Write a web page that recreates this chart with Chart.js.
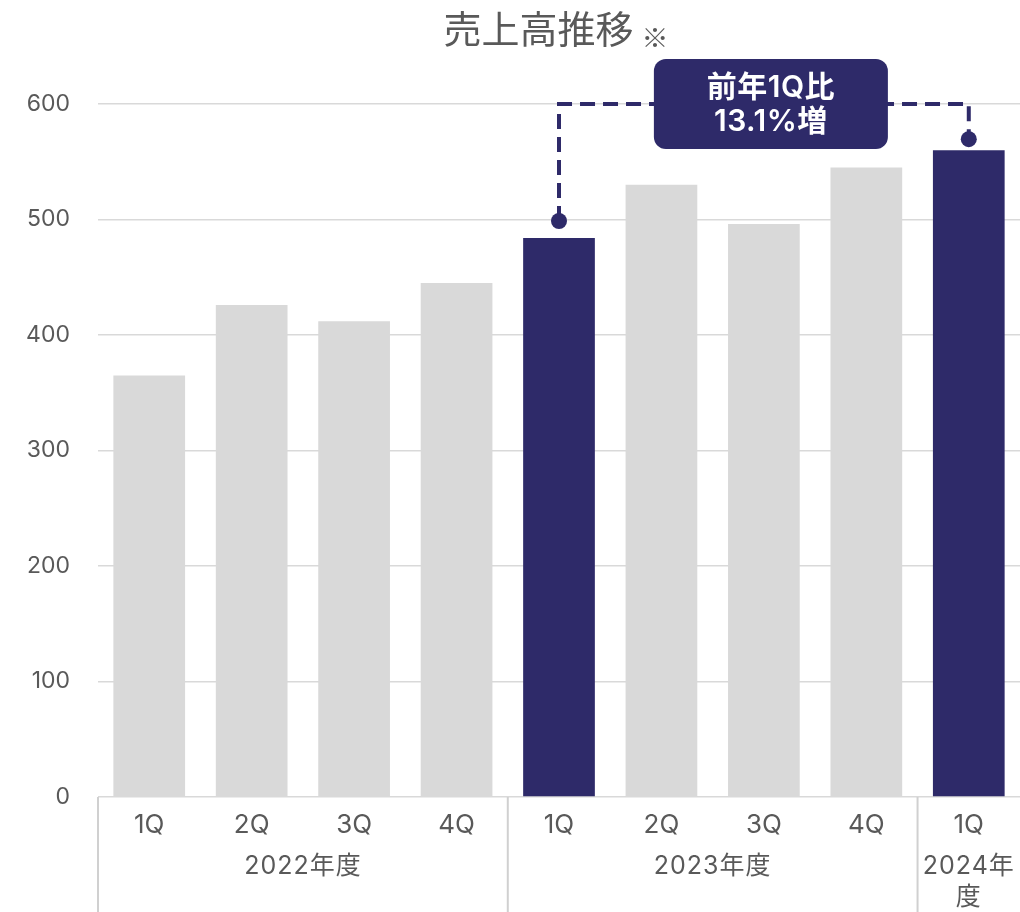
<!DOCTYPE html>
<html>
<head>
<meta charset="utf-8">
<script src="https://cdn.jsdelivr.net/npm/chart.js@4"></script>
<style>
  html, body { margin: 0; padding: 0; background: #fff; }
  #wrap { width: 1020px; height: 912px; position: relative; }
</style>
</head>
<body>
<div id="wrap"><canvas id="salesChart"></canvas></div>
<script>
// --- data ---
const quarters = ['1Q', '2Q', '3Q', '4Q', '1Q', '2Q', '3Q', '4Q', '1Q'];
const fiscalYears = ['2022年度', '2023年度', '2024年度'];
const yearSpans = [4, 4, 1];
const sales = [365, 426, 412, 445, 484, 530, 496, 545, 560];
const highlightIdx = [4, 8];
const yTicks = [0, 100, 200, 300, 400, 500, 600];
const titleText = '売上高推移';
const titleNote = '※';
const calloutLines = ['前年1Q比', '13.1%増'];

const NAVY = '#2e2a69';
const GRAY = '#d9d9d9';
const TEXT = '#595959';
const FONT = "Inter, 'Noto Sans CJK JP', sans-serif";

const barColors = sales.map((v, i) => highlightIdx.includes(i) ? NAVY : GRAY);

const decorPlugin = {
    id: 'decor',
    afterDraw(chart) {
        const ctx = chart.ctx;
        const x = chart.scales.x, y = chart.scales.y;
        const area = chart.chartArea;
        const step = (area.right - area.left) / quarters.length;

        // title
        ctx.save();
        ctx.fillStyle = TEXT;
        ctx.textBaseline = 'middle';
        ctx.font = `38px ${FONT}`;
        const tw = ctx.measureText(titleText).width;
        ctx.font = `27px 'Noto Sans CJK JP'`;
        const nw = ctx.measureText(titleNote).width;
        const total = tw + 8 + nw;
        let tx = 556 - total / 2;
        ctx.font = `38px ${FONT}`;
        ctx.textAlign = 'left';
        ctx.fillText(titleText, tx, 32);
        ctx.font = `27px 'Noto Sans CJK JP'`;
        ctx.fillText(titleNote, tx + tw + 8, 38);
        ctx.restore();

        // year separators and labels
        ctx.save();
        ctx.strokeStyle = '#d0d0d0';
        ctx.lineWidth = 2;
        ctx.fillStyle = TEXT;
        ctx.font = `25px ${FONT}`;
        ctx.letterSpacing = '1px';
        ctx.textAlign = 'center';
        ctx.textBaseline = 'middle';
        let start = 0;
        fiscalYears.forEach((yr, k) => {
            const lx = area.left + start * step;
            ctx.beginPath();
            ctx.moveTo(lx, area.bottom);
            ctx.lineTo(lx, chart.height);
            ctx.stroke();
            const cx = area.left + (start + yearSpans[k] / 2) * step;
            if (yearSpans[k] === 1) {
                ctx.fillText(yr.slice(0, 5), cx, area.bottom + 69);
                ctx.fillText(yr.slice(5), cx, area.bottom + 100);
            } else {
                ctx.fillText(yr, cx, area.bottom + 69);
            }
            start += yearSpans[k];
        });
        ctx.restore();

        // callout connector
        const a = highlightIdx[0], b = highlightIdx[1];
        const ax = x.getPixelForValue(a), bx = x.getPixelForValue(b);
        const ay = y.getPixelForValue(sales[a]) - 17;
        const by = y.getPixelForValue(sales[b]) - 11;
        const topY = y.getPixelForValue(600);
        ctx.save();
        ctx.strokeStyle = NAVY;
        ctx.lineWidth = 4;
        ctx.setLineDash([15, 8]);
        ctx.beginPath();
        ctx.moveTo(ax, ay);
        ctx.lineTo(ax, topY);
        ctx.lineTo(bx, topY);
        ctx.lineTo(bx, by);
        ctx.stroke();
        ctx.setLineDash([]);
        ctx.fillStyle = NAVY;
        [[ax, ay], [bx, by]].forEach(p => {
            ctx.beginPath();
            ctx.arc(p[0], p[1], 8, 0, Math.PI * 2);
            ctx.fill();
        });

        // callout box
        const bw = 234, bh = 90;
        const bxc = (ax + bx) / 2 + 7;
        const bl = bxc - bw / 2, bt = topY - 45;
        ctx.beginPath();
        ctx.roundRect(bl, bt, bw, bh, 12);
        ctx.fill();
        ctx.fillStyle = '#ffffff';
        ctx.font = `600 30px ${FONT}`;
        ctx.letterSpacing = '0.5px';
        ctx.textAlign = 'center';
        ctx.textBaseline = 'middle';
        ctx.fillText(calloutLines[0], bxc, bt + 29);
        ctx.fillText(calloutLines[1], bxc, bt + 63);
        ctx.restore();
    }
};

const ctx = document.getElementById('salesChart').getContext('2d');
const myChart = new Chart(ctx, {
    type: 'bar',
    data: {
        labels: quarters,
        datasets: [{
            data: sales,
            backgroundColor: barColors,
            borderWidth: 0,
            barPercentage: 0.7,
            categoryPercentage: 1.0
        }]
    },
    options: {
        responsive: true,
        maintainAspectRatio: false,
        animation: false,
        devicePixelRatio: 1,
        layout: { padding: { top: 104, right: 0, left: 0, bottom: 0 } },
        plugins: { legend: { display: false }, tooltip: { enabled: false } },
        scales: {
            x: {
                grid: { display: false, drawTicks: false },
                border: { display: false },
                ticks: { color: TEXT, font: { family: FONT, size: 26 }, padding: 13 },
                afterFit: s => { s.height = 115; }
            },
            y: {
                min: 0, max: 600,
                afterBuildTicks: s => { s.ticks = yTicks.map(v => ({ value: v })); },
                grid: { color: '#d9d9d9', lineWidth: 1.5, drawTicks: false },
                border: { display: false },
                ticks: { color: TEXT, font: { family: FONT, size: 23 }, padding: 28 },
                afterFit: s => { s.width = 98; }
            }
        }
    },
    plugins: [decorPlugin]
});
</script>
</body>
</html>
